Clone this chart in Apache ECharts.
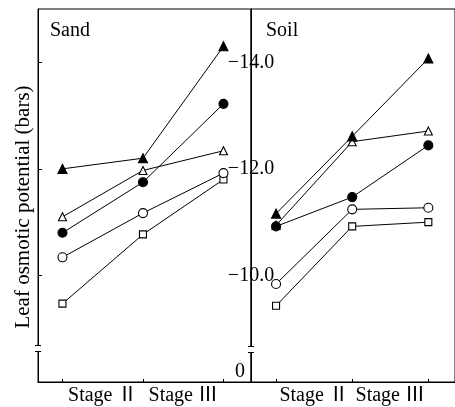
<!DOCTYPE html>
<html>
<head>
<meta charset="utf-8">
<script src="https://cdn.jsdelivr.net/npm/echarts@6/dist/echarts.min.js"></script>
<style>html,body{margin:0;padding:0;background:#fff}#c{width:455px;height:407px}</style>
</head>
<body>
<div id="c"></div>
<script>
// ---- data ----
var stages = ['Stage Ⅱ', 'Stage Ⅲ'];
var timePoints = [0, 1, 2];
var yTicks = [-14, -12, -10];
var zeroLabelPos = -8.2;
var panelNames = ['Sand', 'Soil'];
var yTitle = 'Leaf osmotic potential (bars)';

var sandFilledTri = [-12.0, -12.2, -14.3];
var sandFilledCirc = [-10.8, -11.75, -13.22];
var sandOpenTri = [-11.1, -11.97, -12.34];
var sandOpenCirc = [-10.34, -11.17, -11.92];
var sandOpenSq = [-9.47, -10.77, -11.8];

var soilFilledTri = [-11.16, -12.61, -14.07];
var soilOpenTri = [-10.94, -12.51, -12.71];
var soilFilledCirc = [-10.92, -11.47, -12.44];
var soilOpenCirc = [-9.84, -11.24, -11.27];
var soilOpenSq = [-9.43, -10.92, -11.0];

var FONT = '"Liberation Serif", "Noto Sans CJK JP", serif';

function pts(vals) { return vals.map(function (v, i) { return [timePoints[i], v]; }); }
function mk(vals, idx, symbol, size, filled) {
  return {
    type: 'line', xAxisIndex: idx, yAxisIndex: idx, data: pts(vals),
    symbol: symbol, symbolSize: size, showSymbol: true, animation: false,
    lineStyle: { color: '#000', width: 1 },
    itemStyle: { color: filled ? '#000' : '#fff', borderColor: '#000', borderWidth: 1.1, opacity: 1 },
    emphasis: { disabled: true }
  };
}

var chart = echarts.init(document.getElementById('c'), null, { renderer: 'canvas' });

function xAx(idx, min, max) {
  return {
    type: 'value', gridIndex: idx, min: min, max: max,
    axisLine: { show: true, onZero: false, lineStyle: { color: '#000', width: 1 } },
    axisTick: { show: true, inside: true, length: 3, customValues: timePoints, lineStyle: { color: '#000' } },
    axisLabel: {
      show: true, customValues: [0.5, 1.5], margin: 4, color: '#000',
      fontFamily: FONT, fontSize: 20,
      formatter: function (v) { return stages[Math.floor(v)]; }
    },
    splitLine: { show: false }
  };
}

var option = {
  backgroundColor: '#fff',
  animation: false,
  title: [
    { text: panelNames[0], left: 50, top: 21, padding: 0, textStyle: { fontFamily: FONT, fontSize: 20, fontWeight: 'normal', color: '#000' } },
    { text: panelNames[1], left: 266, top: 21, padding: 0, textStyle: { fontFamily: FONT, fontSize: 20, fontWeight: 'normal', color: '#000' } }
  ],
  grid: [
    { left: 38, top: 9, width: 213, height: 373, show: true, borderColor: '#000', borderWidth: 1, backgroundColor: 'transparent' },
    { left: 251, top: 9, width: 215, height: 373, show: true, borderColor: '#000', borderWidth: 1, backgroundColor: 'transparent' }
  ],
  xAxis: [xAx(0, -0.304, 2.342), xAx(1, -0.329, 2.35)],
  yAxis: [
    {
      type: 'value', gridIndex: 0, min: -15, max: -8, inverse: true,
      axisLine: { show: true, onZero: false, lineStyle: { color: '#000' } },
      axisTick: { show: true, inside: true, length: 4, customValues: yTicks, lineStyle: { color: '#000' } },
      axisLabel: { show: false },
      splitLine: { show: false }
    },
    {
      type: 'value', gridIndex: 1, min: -15, max: -8, inverse: true,
      axisLine: { show: true, onZero: false, lineStyle: { color: '#000' } },
      axisTick: { show: false },
      axisLabel: {
        show: true, customValues: yTicks.concat([zeroLabelPos]), margin: 0, align: 'center',
        color: '#000', fontFamily: FONT, fontSize: 20,
        formatter: function (v) {
          if (v > -9) return '{z|0}';
          return '\u2212' + Math.abs(v).toFixed(1);
        },
        rich: { z: { fontFamily: FONT, fontSize: 20, color: '#000', padding: [0, 22, 0, 0] } }
      },
      splitLine: { show: false }
    }
  ],
  graphic: [
    { type: 'text', rotation: Math.PI / 2, x: 23, y: 207, z: 100,
      style: { text: yTitle, font: '21px ' + FONT, fill: '#000', align: 'center', verticalAlign: 'middle' } },
    // axis break marks
    { type: 'rect', z: 100, shape: { x: 35, y: 346, width: 6, height: 5 }, style: { fill: '#fff' } },
    { type: 'line', z: 101, shape: { x1: 35, y1: 345.5, x2: 41, y2: 345.5 }, style: { stroke: '#000', lineWidth: 1 } },
    { type: 'line', z: 101, shape: { x1: 35, y1: 351.5, x2: 41, y2: 351.5 }, style: { stroke: '#000', lineWidth: 1 } },
    { type: 'rect', z: 100, shape: { x: 248, y: 347, width: 6, height: 5 }, style: { fill: '#fff' } },
    { type: 'line', z: 101, shape: { x1: 248, y1: 346.5, x2: 254, y2: 346.5 }, style: { stroke: '#000', lineWidth: 1 } },
    { type: 'line', z: 101, shape: { x1: 248, y1: 352.5, x2: 254, y2: 352.5 }, style: { stroke: '#000', lineWidth: 1 } }
  ],
  series: [
    mk(sandOpenSq, 0, 'rect', 7, false),
    mk(sandOpenCirc, 0, 'circle', 9, false),
    mk(sandOpenTri, 0, 'triangle', 8, false),
    mk(sandFilledCirc, 0, 'circle', 9, true),
    mk(sandFilledTri, 0, 'triangle', 9, true),
    mk(soilOpenSq, 1, 'rect', 7, false),
    mk(soilOpenCirc, 1, 'circle', 9, false),
    mk(soilOpenTri, 1, 'triangle', 8, false),
    mk(soilFilledCirc, 1, 'circle', 9, true),
    mk(soilFilledTri, 1, 'triangle', 9, true)
  ]
};
chart.setOption(option);
</script>
</body>
</html>
